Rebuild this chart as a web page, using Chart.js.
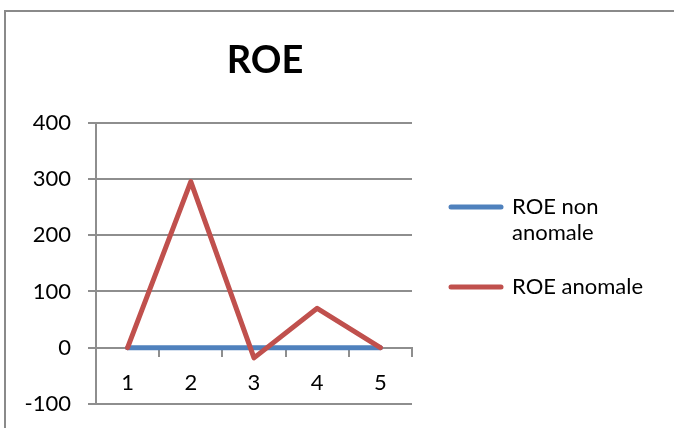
<!DOCTYPE html>
<html>
<head>
<meta charset="utf-8">
<title>ROE</title>
<script src="https://cdn.jsdelivr.net/npm/chart.js@4.4.1/dist/chart.umd.min.js"></script>
<style>
  html, body { margin: 0; padding: 0; background: #fff; }
  #wrap { position: relative; width: 674px; height: 428px; overflow: hidden; }
  #frame { position: absolute; left: 4px; top: 10px; right: -10px; bottom: -10px;
           border-top: 2px solid #8a8a8a; border-left: 2px solid #8a8a8a; }
  canvas { position: absolute; left: 0; top: 0; }
</style>
</head>
<body>
<div id="wrap">
  <div id="frame"></div>
  <canvas id="roeChart" width="674" height="428"></canvas>
</div>
<script>
const categories = ["1", "2", "3", "4", "5"];
const roeNonAnomale = [0, 0, 0, 0, 0];
const roeAnomale = [0, 295, -18, 70, 0];
const yTicks = [-100, 0, 100, 200, 300, 400];
const seriesNames = ["ROE non anomale", "ROE anomale"];
const legendLines = [["ROE non", "anomale"], ["ROE anomale"]];

const axisGray = "#8e8e8e";
const textFont = { family: "Lato, 'Open Sans', sans-serif", size: 22 };

// title and legend sit where the chart frame expects them, not where the layout packs them
const boxPlacement = {
  id: "boxPlacement",
  afterLayout(chart) {
    const title = chart.titleBlock;
    const dx = 265 - (title.left + title.right) / 2;
    title.left += dx;
    title.right += dx;

    const legend = chart.legend;
    legend.left = 423;
    legend.right = legend.left + legend.width;
    legend.top = 168;
    legend.bottom = legend.top + legend.height;
  }
};

new Chart(document.getElementById("roeChart"), {
  type: "line",
  data: {
    labels: categories,
    datasets: [{
      label: seriesNames[0],
      data: roeNonAnomale,
      borderColor: "#4f81bd",
      backgroundColor: "#4f81bd",
      borderWidth: 5,
      order: 1
    }, {
      label: seriesNames[1],
      data: roeAnomale,
      borderColor: "#c0504d",
      backgroundColor: "#c0504d",
      borderWidth: 5,
      order: 0
    }]
  },
  options: {
    responsive: false,
    animation: false,
    devicePixelRatio: 1,
    layout: { padding: { left: 0, right: 262, top: 0, bottom: 24 } },
    elements: {
      line: { tension: 0, borderCapStyle: "round", borderJoinStyle: "round", fill: false },
      point: { radius: 0, hoverRadius: 0 }
    },
    scales: {
      x: {
        type: "category",
        position: { y: 0 },
        offset: true,
        grid: { offset: true, drawOnChartArea: false, drawTicks: true, tickLength: 8, color: axisGray, lineWidth: 2 },
        border: { display: true, color: axisGray, width: 2 },
        ticks: { color: "#000", font: textFont, padding: 14, maxRotation: 0 }
      },
      y: {
        min: yTicks[0],
        max: yTicks[yTicks.length - 1],
        afterBuildTicks: scale => { scale.ticks = yTicks.map(v => ({ value: v })); },
        afterFit: scale => {
          // fixed axis width; the label overhang is already covered by the outer padding
          scale.width = 96;
          scale.paddingTop = 0;
          scale.paddingBottom = 0;
        },
        grid: { color: axisGray, lineWidth: 2, tickLength: 8, drawTicks: true },
        border: { display: true, color: axisGray, width: 2 },
        ticks: { color: "#000", font: textFont, padding: 17 }
      }
    },
    plugins: {
      title: {
        display: true,
        text: "ROE",
        color: "#000",
        font: { family: "'Liberation Sans Narrow', Lato, sans-serif", size: 38, weight: "bold", lineHeight: 1.2 },
        padding: { top: 38, bottom: 39 }
      },
      legend: {
        position: "chartArea",
        align: "start",
        labels: {
          usePointStyle: true,
          pointStyle: "line",
          pointStyleWidth: 50,
          padding: 28,
          color: "#000",
          font: { family: textFont.family, size: 22, lineHeight: 1.18 },
          generateLabels: chart => chart.data.datasets.map((ds, i) => ({
            text: legendLines[i],
            fillStyle: ds.borderColor,
            strokeStyle: ds.borderColor,
            fontColor: "#000",
            lineWidth: ds.borderWidth,
            lineCap: "round",
            pointStyle: "line",
            hidden: false,
            datasetIndex: i
          }))
        }
      },
      tooltip: { enabled: false }
    }
  },
  plugins: [boxPlacement]
});
</script>
</body>
</html>
